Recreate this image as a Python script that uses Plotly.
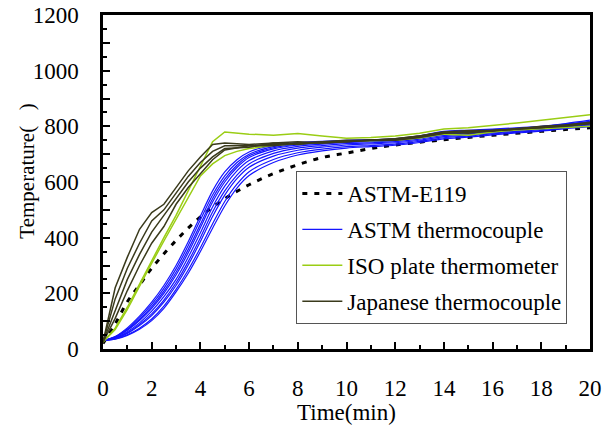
import plotly.graph_objects as go

# ---------------- data ----------------
t_e119 = [0, 0.5, 1, 1.5, 2, 3, 4, 5, 6, 7, 8, 9, 10, 11, 12, 14, 16, 18, 20]
T_e119 = [20, 90, 170, 230, 290, 390, 475, 540, 590, 630, 662, 688, 704, 720, 733, 752, 768, 782, 795]

t_b = [0, 0.5, 1, 1.5, 2, 2.5, 3, 3.5, 4, 4.5, 5, 5.5, 6, 7, 8, 9, 10, 11, 12, 13, 14, 15, 16, 17, 18, 19, 20]
astm_tc = [
    [30, 45, 76, 118, 168, 228, 300, 385, 478, 568, 636, 680, 708, 732, 742, 746, 750, 752, 755, 766, 782, 786, 790, 795, 800, 810, 822],
    [30, 44, 72, 112, 160, 218, 288, 372, 464, 553, 622, 670, 700, 727, 738, 744, 748, 750, 754, 764, 779, 783, 788, 793, 799, 808, 818],
    [30, 43, 69, 106, 152, 208, 276, 358, 448, 540, 610, 660, 694, 723, 736, 742, 747, 749, 752, 762, 776, 781, 786, 792, 797, 806, 815],
    [30, 42, 67, 102, 146, 200, 266, 346, 436, 528, 600, 652, 688, 719, 733, 740, 745, 747, 751, 760, 774, 779, 785, 790, 796, 805, 814],
    [30, 40, 62, 94, 136, 188, 250, 330, 418, 510, 585, 640, 677, 712, 728, 736, 742, 745, 749, 758, 771, 776, 782, 788, 794, 803, 811],
    [30, 39, 58, 88, 126, 176, 238, 314, 400, 492, 568, 625, 665, 703, 722, 731, 738, 741, 745, 754, 767, 773, 779, 785, 791, 800, 808],
    [30, 38, 56, 84, 120, 168, 228, 302, 386, 476, 553, 612, 653, 693, 714, 725, 733, 737, 741, 750, 763, 769, 776, 782, 788, 797, 805],
    [30, 36, 51, 75, 108, 154, 214, 284, 364, 450, 530, 592, 637, 681, 705, 718, 727, 731, 736, 746, 759, 765, 773, 779, 785, 794, 802],
    [30, 35, 49, 71, 102, 146, 205, 272, 350, 434, 514, 578, 623, 670, 697, 712, 722, 727, 732, 742, 755, 761, 769, 776, 783, 792, 799],
]

t_g = [0, 0.5, 1, 1.5, 2, 2.5, 3, 3.5, 4, 4.5, 5, 5.5, 6, 7, 8, 9, 10, 11, 12, 13, 14, 15, 16, 17, 18, 19, 20]
iso_pt = [
    [25, 75, 150, 235, 320, 400, 480, 570, 660, 745, 780, 775, 772, 768, 774, 765, 757, 760, 765, 775, 790, 795, 803, 812, 822, 832, 842],
    [25, 70, 142, 226, 308, 388, 466, 548, 622, 665, 695, 710, 720, 732, 738, 742, 746, 748, 750, 758, 772, 768, 780, 787, 792, 797, 800],
]

t_j = [0, 0.5, 1, 1.5, 2, 2.5, 3, 3.5, 4, 4.5, 5, 6, 7, 8, 9, 10, 11, 12, 13, 14, 15, 16, 17, 18, 19, 20]
jp_tc = [
    [25, 220, 330, 430, 490, 520, 580, 640, 690, 735, 740, 735, 740, 745, 740, 745, 750, 755, 765, 780, 785, 785, 790, 800, 805, 815],
    [25, 180, 290, 380, 460, 500, 560, 620, 670, 710, 730, 730, 735, 740, 745, 745, 750, 750, 760, 775, 780, 785, 790, 795, 805, 810],
    [25, 140, 250, 340, 420, 480, 540, 600, 650, 690, 720, 725, 740, 735, 745, 750, 750, 755, 765, 780, 775, 785, 790, 795, 800, 810],
    [25, 110, 210, 300, 380, 440, 520, 580, 630, 680, 715, 730, 730, 740, 740, 745, 750, 752, 762, 775, 780, 782, 792, 798, 803, 812],
]

x_ticks = list(range(0, 21, 2))
y_ticks = list(range(0, 1201, 100))
y_ticktext = [str(v) if v % 200 == 0 else "" for v in y_ticks]

x_title = "Time(min)"
y_title = "Temperature(   )"

# ---------------- figure ----------------
FONT = "Liberation Serif"
BLUE = "#1414ff"
GREEN = "#9acd14"
OLIVE = "#3a3a1c"

fig = go.Figure()

fig.add_trace(go.Scatter(
    x=t_e119, y=T_e119, mode="lines", name="ASTM-E119",
    line=dict(color="black", width=3, dash="5px,7px", shape="spline"),
    legendgroup="e119", showlegend=True))

for i, ys in enumerate(astm_tc):
    fig.add_trace(go.Scatter(
        x=t_b, y=ys, mode="lines", name="ASTM thermocouple",
        line=dict(color=BLUE, width=1.2, shape="spline", smoothing=0.8),
        legendgroup="astm", showlegend=(i == 0)))

for i, ys in enumerate(iso_pt):
    fig.add_trace(go.Scatter(
        x=t_g, y=ys, mode="lines", name="ISO plate thermometer",
        line=dict(color=GREEN, width=1.5),
        legendgroup="iso", showlegend=(i == 0)))

for i, ys in enumerate(jp_tc):
    fig.add_trace(go.Scatter(
        x=t_j, y=ys, mode="lines", name="Japanese thermocouple",
        line=dict(color=OLIVE, width=1.5),
        legendgroup="jp", showlegend=(i == 0)))

fig.update_layout(
    width=613, height=425,
    margin=dict(l=103, r=23, t=15, b=76, autoexpand=False),
    paper_bgcolor="white", plot_bgcolor="white",
    font=dict(family=FONT, size=23, color="black"),
    legend=dict(
        x=0.397, y=0.533, xanchor="left", yanchor="top",
        bgcolor="white", bordercolor="#555555", borderwidth=1,
        font=dict(family=FONT, size=23, color="black"),
        tracegroupgap=3, traceorder="grouped", itemwidth=40,
    ),
    showlegend=True,
    annotations=[dict(
        text=y_title, textangle=-90, xref="paper", yref="paper",
        x=-0.156, y=0.534, xanchor="center", yanchor="middle", showarrow=False,
        font=dict(family=FONT, size=21, color="black"),
    )],
)

fig.update_xaxes(
    range=[0, 20], tickvals=x_ticks, ticks="inside", ticklen=7, tickwidth=1.5,
    tickcolor="black", showline=True, linecolor="black", linewidth=2.5, mirror=True,
    showgrid=False, zeroline=False, ticklabelstandoff=17, automargin=False,
    minor=dict(dtick=1, ticks="inside", ticklen=4, tickwidth=1.5, tickcolor="black", showgrid=False),
    title=dict(text=x_title, font=dict(family=FONT, size=23), standoff=5),
    tickfont=dict(family=FONT, size=23),
)
fig.update_yaxes(
    range=[0, 1200], tickvals=y_ticks, ticktext=y_ticktext, ticks="inside", ticklen=7,
    tickwidth=1.5, tickcolor="black", showline=True, linecolor="black", linewidth=2.5,
    mirror=True, showgrid=False, zeroline=False, ticklabelstandoff=17, automargin=False,
    minor=dict(dtick=50, ticks="inside", ticklen=4, tickwidth=1.5, tickcolor="black", showgrid=False),
    tickfont=dict(family=FONT, size=23),
)

fig.write_html("out.html")
